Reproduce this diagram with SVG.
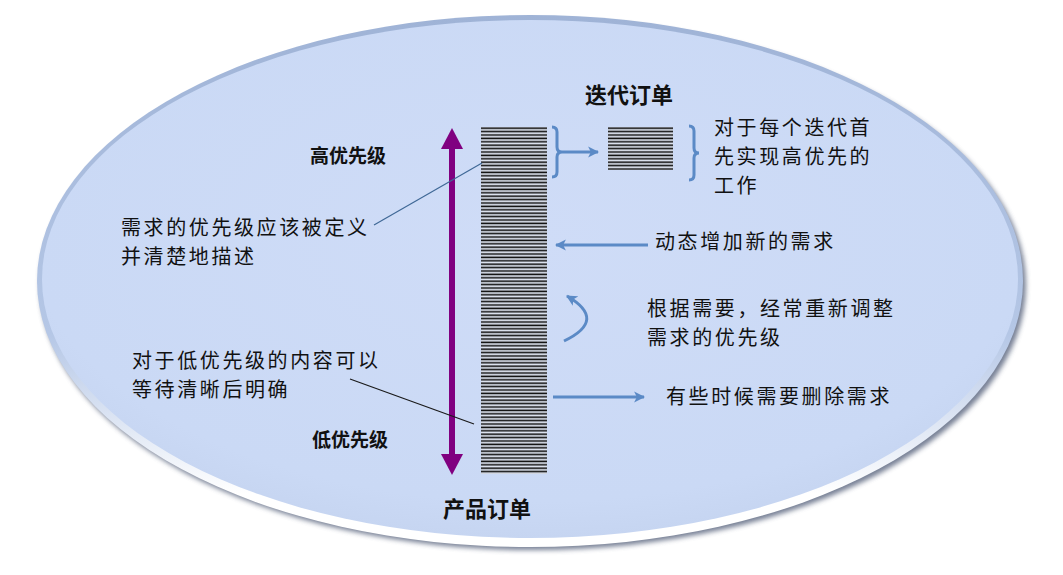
<svg xmlns="http://www.w3.org/2000/svg" width="1063" height="575" viewBox="0 0 1063 575">
  <defs>
    <style>
      .t { font-family: "Noto Sans CJK SC", "Liberation Sans", sans-serif; font-size: 20px; fill: #111; letter-spacing: 2.6px; }
      .b { font-family: "Noto Sans CJK SC", "Liberation Sans", sans-serif; font-weight: bold; fill: #111; }
      .blue { stroke: #5b8ac6; stroke-width: 3; fill: none; }
      .lead { stroke-width: 1.2; fill: none; }
    </style>
    <radialGradient id="bg" cx="0.5" cy="0.42" r="0.6">
      <stop offset="0" stop-color="#cfdcf7"/>
      <stop offset="0.85" stop-color="#cad9f5"/>
      <stop offset="1" stop-color="#c5d4f0"/>
    </radialGradient>
    <linearGradient id="rim" x1="0" y1="0" x2="0" y2="1">
      <stop offset="0" stop-color="#9fb3d6"/>
      <stop offset="0.6" stop-color="#b5c7e6"/>
      <stop offset="0.9" stop-color="#ffffff"/>
      <stop offset="1" stop-color="#ffffff"/>
    </linearGradient>
    <filter id="sh" x="-5%" y="-5%" width="110%" height="115%">
      <feGaussianBlur stdDeviation="2.5"/>
    </filter>
    <pattern id="bars" patternUnits="userSpaceOnUse" x="0" y="127" width="10" height="3.4">
      <rect x="0" y="0" width="10" height="3.4" fill="#e2e8f4"/>
      <rect x="0" y="0.4" width="10" height="1.6" fill="#111"/>
    </pattern>
    <marker id="ah" viewBox="0 0 10 10" refX="9" refY="5" markerWidth="11" markerHeight="12" markerUnits="userSpaceOnUse" orient="auto">
      <path d="M0,0 L10,5 L0,10 L2.5,5 Z" fill="#5b8ac6"/>
    </marker>
  </defs>

  <rect width="1063" height="575" fill="#ffffff"/>

  <g id="background">
    <ellipse cx="533" cy="285" rx="493" ry="265" fill="#55607a" filter="url(#sh)" opacity="0.8"/>
    <ellipse cx="530" cy="281" rx="493" ry="266" fill="url(#rim)"/>
    <ellipse cx="530" cy="279" rx="488" ry="259" fill="url(#bg)"/>
  </g>

  <g id="priority-arrow">
    <line x1="452" y1="144" x2="452" y2="459" stroke="#800080" stroke-width="6"/>
    <polygon points="452,128 441,149 463,149" fill="#800080"/>
    <polygon points="452,475 441,454 463,454" fill="#800080"/>
  </g>

  <g id="product-backlog">
    <rect x="481" y="127" width="66" height="347" fill="url(#bars)"/>
    <text class="b" x="443" y="517" font-size="22">产品订单</text>
  </g>

  <g id="iteration-backlog">
    <rect x="608" y="127" width="65" height="43" fill="url(#bars)"/>
    <text class="b" x="585" y="103" font-size="22">迭代订单</text>
  </g>

  <g id="label-high">
    <text class="b" x="310" y="163" font-size="19">高优先级</text>
  </g>
  <g id="label-low">
    <text class="b" x="312" y="447" font-size="19">低优先级</text>
  </g>

  <g id="note-define">
    <text class="t" x="121" y="235">需求的优先级应该被定义<tspan x="121" dy="29">并清楚地描述</tspan></text>
  </g>
  <g id="note-low">
    <text class="t" x="132" y="368">对于低优先级的内容可以<tspan x="132" dy="29">等待清晰后明确</tspan></text>
  </g>
  <g id="note-iteration">
    <text class="t" x="714" y="135">对于每个迭代首<tspan x="714" dy="29">先实现高优先的</tspan><tspan x="714" dy="29">工作</tspan></text>
  </g>
  <g id="note-add">
    <text class="t" x="655" y="249">动态增加新的需求</text>
  </g>
  <g id="note-reprioritize">
    <text class="t" x="647" y="316">根据需要，经常重新调整<tspan x="647" dy="29">需求的优先级</tspan></text>
  </g>
  <g id="note-remove">
    <text class="t" x="666" y="404">有些时候需要删除需求</text>
  </g>

  <g id="connectors">
    <line class="lead" x1="374" y1="225" x2="482" y2="163" stroke="#3f6896"/>
    <line class="lead" x1="350" y1="379" x2="474" y2="424" stroke="#1a1a1a"/>
    <path class="blue" d="M552,127 Q557,127 557,132 L557,147 Q557,152 562,152 Q557,152 557,157 L557,172 Q557,177 552,177"/>
    <line class="blue" x1="562" y1="152" x2="598" y2="152" marker-end="url(#ah)"/>
    <path class="blue" d="M689,126 Q694,126 694,131 L694,148 Q694,153 699,153 Q694,153 694,158 L694,175 Q694,180 689,180"/>
    <line class="blue" x1="648" y1="245" x2="556" y2="245" marker-end="url(#ah)"/>
    <path class="blue" d="M564,341 Q608,320 567,296" marker-end="url(#ah)"/>
    <line class="blue" x1="553" y1="397" x2="644" y2="397" marker-end="url(#ah)"/>
  </g>
</svg>
